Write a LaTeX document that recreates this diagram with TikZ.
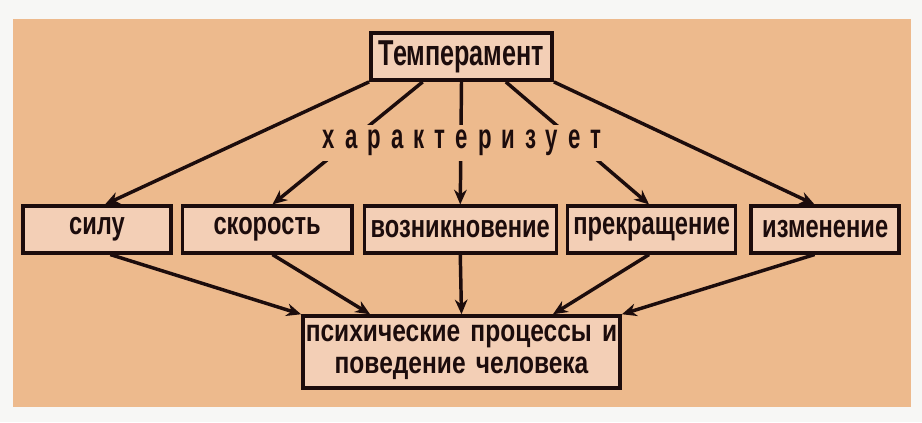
\documentclass[tikz,border=0pt]{standalone}
\usepackage{fontspec}
\setmainfont{Liberation Sans}
\newfontfamily\titlefont[FakeStretch=0.70]{Liberation Sans}
\newfontfamily\rowfont[FakeStretch=0.74]{Liberation Sans}
\newfontfamily\psychfont[FakeStretch=0.80,WordSpace=1.5]{Liberation Sans}
\newfontfamily\lblfont[FakeStretch=0.64,LetterSpace=29]{Liberation Sans}
\usetikzlibrary{arrows.meta,positioning,calc}

\definecolor{margin}{RGB}{247,247,245}
\definecolor{bgtan}{RGB}{237,186,141}
\definecolor{boxfill}{RGB}{243,207,182}
\definecolor{ink}{RGB}{28,12,12}

\tikzset{
  box/.style={draw=ink, fill=boxfill, line width=2.6pt, inner sep=0pt, text=ink,
    font=\rowfont\bfseries\fontsize{24}{26}\selectfont},
  link/.style={->, draw=ink, line width=2.6pt, >={Stealth[length=11pt,width=9.5pt]}},
}

\begin{document}
\begin{tikzpicture}[x=0.75pt, y=-0.75pt]
\useasboundingbox (0,0) rectangle (922,422);
\fill[margin] (0,0) rectangle (922,422);
\fill[bgtan] (13,19) rectangle (911,407);

% top box
\node[box, minimum width=136pt, minimum height=35.5pt,
  font=\titlefont\bfseries\fontsize{27}{29}\selectfont] (temp) at (461.5,56.5) {Темперамент};

% middle row
\node[box, minimum width=111pt, minimum height=35pt] (sila) at (97,229.5) {силу};
\node[box, minimum width=127pt, minimum height=35pt, right=6pt of sila] (skor) {скорость};
\node[box, minimum width=144pt, minimum height=35pt, right=6.75pt of skor] (vozn) {возникновение};
\node[box, minimum width=126pt, minimum height=35pt, right=6pt of vozn] (prek) {прекращение};
\node[box, minimum width=111pt, minimum height=35pt, right=9pt of prek] (izm) {изменение};

% bottom box
\node[box, minimum width=238pt, minimum height=54pt, align=center,
  font=\psychfont\bfseries\fontsize{23}{24}\selectfont] (psych) at (461.5,352)
  {психические процессы и\\поведение человека};

% arrows down from the top box
\draw[link] (temp.south west) -- ([xshift=6pt]sila.north);
\draw[link] ($(temp.south west)!0.29!(temp.south east)$) -- ([xshift=4pt]skor.north);
\draw[link] (temp.south) -- (vozn.north);
\draw[link] ($(temp.south west)!0.74!(temp.south east)$) -- ([xshift=-2pt]prek.north);
\draw[link] (temp.south east) -- ([xshift=-8pt]izm.north);

% arrows into the bottom box
\draw[link] ([xshift=10pt]sila.south) -- (psych.north west);
\draw[link] ([xshift=4pt]skor.south) -- ($(psych.north west)!0.215!(psych.north east)$);
\draw[link] (vozn.south) -- (psych.north);
\draw[link] ([xshift=-2pt]prek.south) -- ($(psych.north west)!0.785!(psych.north east)$);
\draw[link] ([xshift=-8pt]izm.south) -- (psych.north east);

% label over the arrows
\node[fill=bgtan, inner xsep=2pt, inner ysep=0pt, minimum height=27pt, text=ink,
  font=\lblfont\bfseries\fontsize{26}{28}\selectfont] (charlbl) at (462,143) {характеризует};
\end{tikzpicture}
\end{document}
